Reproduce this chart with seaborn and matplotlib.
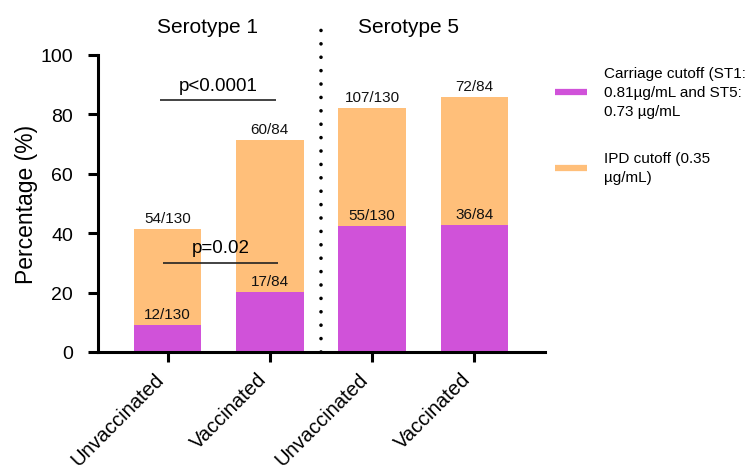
import matplotlib
matplotlib.use("Agg")
import matplotlib.pyplot as plt
from matplotlib.lines import Line2D
import numpy as np
import pandas as pd
import seaborn as sns

# Groups, shown left to right (serotype 1 then serotype 5)
group_keys = ["ST1 Unvaccinated", "ST1 Vaccinated", "ST5 Unvaccinated", "ST5 Vaccinated"]
tick_labels = ["Unvaccinated", "Vaccinated", "Unvaccinated", "Vaccinated"]
serotype_titles = ["Serotype 1", "Serotype 5"]

# Counts above each cutoff and group sizes
totals = [130, 84, 130, 84]
ipd_counts = [54, 60, 107, 72]
carriage_counts = [12, 17, 55, 36]

# Pairwise comparisons within serotype 1
p_labels = ["p<0.0001", "p=0.02"]
p_levels = [84.8, 30.0]

legend_labels = [
    "Carriage cutoff (ST1:\n0.81µg/mL and ST5:\n0.73 µg/mL",
    "IPD cutoff (0.35\nµg/mL)",
]

purple = "#D052D9"
orange = "#FFBF7A"

df = pd.DataFrame({
    "group": group_keys,
    "ipd": np.array(ipd_counts) / np.array(totals) * 100,
    "carriage": np.array(carriage_counts) / np.array(totals) * 100,
})

sns.set_style("ticks")
plt.rcParams["font.family"] = ["Liberation Sans", "DejaVu Sans"]
for key in ("text.color", "axes.labelcolor", "xtick.color", "ytick.color", "axes.edgecolor"):
    plt.rcParams[key] = "black"

fig = plt.figure(figsize=(7.52, 4.77), dpi=100)
ax = fig.add_axes([0.1303, 0.2600, 0.5944, 0.6226])

sns.barplot(data=df, x="group", y="ipd", order=group_keys, color=orange,
            saturation=1, width=0.66, errorbar=None, linewidth=0, ax=ax)
sns.barplot(data=df, x="group", y="carriage", order=group_keys, color=purple,
            saturation=1, width=0.66, errorbar=None, linewidth=0, ax=ax)

# count labels above each bar
for i in range(len(group_keys)):
    for n, pct in ((ipd_counts[i], df["ipd"][i]), (carriage_counts[i], df["carriage"][i])):
        ax.annotate(f"{n}/{totals[i]}", xy=(i, pct), xytext=(0, 5),
                    textcoords="offset points", ha="center", va="baseline",
                    fontsize=11, color="#111111")

# significance brackets
p_spans = [(-0.075, 1.057), (-0.04, 1.08)]
for (x0, x1), lvl, lab in zip(p_spans, p_levels, p_labels):
    ax.plot([x0, x1], [lvl, lvl], color="#222222", lw=1.2, solid_capstyle="butt")
    ax.text((x0 + x1) / 2, lvl + 2.2, lab, ha="center", va="bottom", fontsize=13.5)

# dotted separator between serotypes
ax.plot([1.5, 1.5], [0, 112.5], color="black", lw=2.6, clip_on=False,
        linestyle=(0, (0.01, 3.7)), dash_capstyle="round")

# serotype headings
for xc, t in zip([0.39, 2.36], serotype_titles):
    ax.text(xc, 109.5, t, ha="center", va="center", fontsize=15, clip_on=False)

ax.set_xlim(-0.68, 3.69)
ax.set_ylim(0, 100)
ax.set_yticks([0, 20, 40, 60, 80, 100])
ax.set_xticks(range(len(group_keys)))
ax.set_xticklabels(tick_labels, rotation=45, ha="right", fontsize=14.5)
ax.tick_params(axis="y", labelsize=14, length=7, width=2.2, pad=11)
ax.tick_params(axis="x", length=7, width=2.2, pad=5)
ax.set_xlabel("")
ax.set_ylabel("Percentage (%)", fontsize=16.5, labelpad=2)
sns.despine(ax=ax)
for s in ("left", "bottom"):
    ax.spines[s].set_linewidth(2.2)

handles = [Line2D([0], [0], color=purple, lw=4.5, solid_capstyle="butt"),
           Line2D([0], [0], color=orange, lw=4.5, solid_capstyle="butt")]
leg = fig.legend(handles, legend_labels, loc="upper left", bbox_to_anchor=(0.738, 0.860),
                 frameon=False, fontsize=11, handlelength=2.1, handletextpad=1.1,
                 labelspacing=2.2, borderaxespad=0, borderpad=0)
for t in leg.get_texts():
    t.set_linespacing(1.45)

fig.savefig("out.png", dpi=100)
